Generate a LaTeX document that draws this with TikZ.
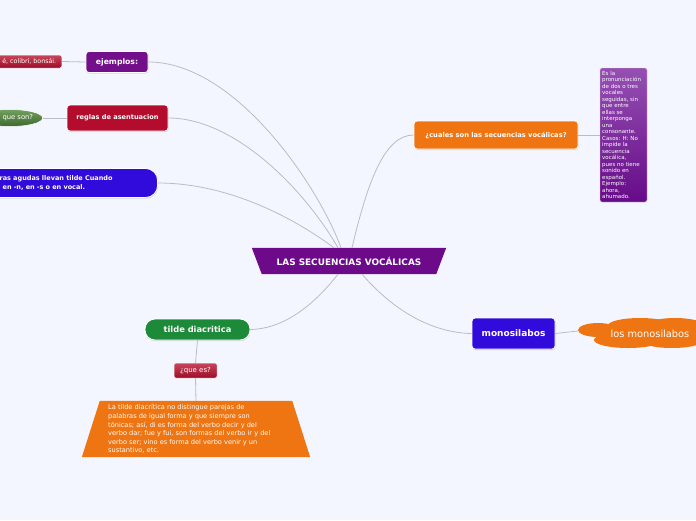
\documentclass[tikz,border=0pt]{standalone}
\usepackage{fontspec}
\setmainfont{DejaVu Sans}
\usetikzlibrary{shapes.geometric,shadows,calc}
\definecolor{bg}{HTML}{F3F6FE}
\definecolor{linegray}{HTML}{B9BCC4}
\definecolor{cpurple}{HTML}{6C0A8A}
\definecolor{epurple}{HTML}{740F8B}
\definecolor{cred}{HTML}{B30C2C}
\definecolor{redtop}{HTML}{C8465A}
\definecolor{redbot}{HTML}{9C0C27}
\definecolor{greentop}{HTML}{72A05E}
\definecolor{greenbot}{HTML}{3E692F}
\definecolor{cblue}{HTML}{310BDC}
\definecolor{corange}{HTML}{EE7512}
\definecolor{cgreen}{HTML}{1D8A39}
\definecolor{ptop}{HTML}{9550B2}
\definecolor{pbot}{HTML}{660B88}
\begin{document}
\begin{tikzpicture}[x=1pt,y=-1pt,
  box/.style={draw=white, line width=0.8pt, text=white, inner sep=0pt, rounded corners=3pt,
    drop shadow={shadow xshift=0.4pt, shadow yshift=-1.2pt, opacity=0.25}},
  smallred/.style={draw=white, line width=0.5pt, text=white, inner sep=0pt, rounded corners=1.5pt,
    top color=redtop, bottom color=redbot},
  conn/.style={draw=linegray, line width=0.8pt},
  fs/.style={font=\fontsize{#1}{#1}\selectfont},
  fb/.style={font=\bfseries\fontsize{#1}{#1}\selectfont}]
\useasboundingbox[fill=bg] (0,0) rectangle (696,520);

% central
\node[minimum width=182pt, minimum height=26pt, inner sep=0pt] (c) at (349,261) {};
\fill[cpurple] ($(c.north west)+(-6,0)$) -- ($(c.north east)+(6,0)$) -- ($(c.south east)+(-4,0)$) -- ($(c.south west)+(4,0)$) -- cycle;
\node[text=white, fb=8.9] (ct) at (349,261.5) {LAS SECUENCIAS VOCÁLICAS};

% left branch
\node[box, fill=epurple, minimum width=62pt, minimum height=21pt, fb=7.7] (ej) at (117,62) {ejemplos:};
\node[smallred, anchor=east, minimum width=65pt, minimum height=13pt, inner xsep=3pt, fs=6.3] (ejl) at (62,61.5) {é, colibrí, bonsái.};

\node[box, fill=cred, minimum width=101pt, minimum height=26pt, fb=6.6] (reg) at (117.5,118) {reglas de asentuacion};
\node[ellipse, draw=white, line width=0.5pt, top color=greentop, bottom color=greenbot, text=white,
  anchor=east, minimum width=60pt, minimum height=17pt, inner sep=0pt, fs=6.8] (qs) at (43,118) {\hspace*{16pt}que son?};

\node[box, fill=cblue, rounded corners=12pt, anchor=east, minimum width=186pt, minimum height=29pt,
  text width=130pt, align=left, fb=6.5] (bl) at (158,183) {ras agudas llevan tilde Cuando\\[2pt]\hspace*{3pt}en -n, en -s o en vocal.};

% right branch
\node[box, fill=corange, minimum width=164pt, minimum height=28pt, fb=6.7] (cu) at (496,135) {¿cuales son las secuencias vocálicas?};
\node[draw=white!70!ptop, line width=0.4pt, rounded corners=2pt, top color=ptop, bottom color=pbot,
  text=white, minimum width=47pt, minimum height=134pt, inner sep=0pt] (pb) at (623.5,135) {};
\node[text=white, anchor=north west, align=left, inner sep=0pt, font=\fontsize{5.5}{6.5}\selectfont] (pbt) at (602,71)
 {Es la\\pronunciación\\de dos o tres\\vocales\\seguidas, sin\\que entre\\ellas se\\interponga\\una\\consonante.\\Casos: H: No\\impide la\\secuencia\\vocálica,\\pues no tiene\\sonido en\\español.\\Ejemplo:\\ahora,\\ahumado.};

\node[box, fill=cblue, minimum width=83pt, minimum height=31pt, fb=9] (mo) at (513.5,333.5) {monosilabos};
% cloud
\begin{scope}[corange]
\fill (598,330) ellipse [x radius=20, y radius=7];
\fill (640,325.5) ellipse [x radius=32, y radius=7.5];
\fill (628,340) ellipse [x radius=34, y radius=8];
\fill (675,326) ellipse [x radius=30, y radius=8];
\fill (672,340) ellipse [x radius=32, y radius=8];
\fill (600,326) rectangle (700,342);
\end{scope}
\coordinate (clw) at (578,331);
\node[text=white, inner sep=0pt, fs=9.8] (cl) at (650,334) {los monosilabos};

% bottom left
\node[box, fill=cgreen, rounded corners=10pt, minimum width=105pt, minimum height=21pt, fb=8.3] (td) at (197.5,329.5) {tilde diacritica};
\node[smallred, minimum width=43pt, minimum height=15pt, fs=7] (qe) at (195.5,370.5) {¿que es?};
\node[minimum width=192pt, minimum height=56pt, inner sep=0pt] (tr) at (196,429) {};
\fill[corange] (tr.north west) -- (tr.north east) -- ($(tr.south east)+(18,0)$) -- ($(tr.south west)+(-18,0)$) -- cycle;
\node[text=white, anchor=north west, align=left, inner sep=0pt, font=\fontsize{6.6}{8.6}\selectfont] (trt) at (108,404.5)
 {La tilde diacrítica no distingue parejas de\\palabras de igual forma y que siempre son\\tónicas; así, di es forma del verbo decir y del\\verbo dar; fue y fui, son formas del verbo ir y del\\verbo ser; vino es forma del verbo venir y un\\sustantivo, etc.};

% connectors
\draw[conn] ($(c.north)+(-8,0)$) .. controls (318,185) and (235,62) .. (ej.east);
\draw[conn] ($(c.north)+(-11,0)$) .. controls (305,190) and (235,118) .. (reg.east);
\draw[conn] ($(c.north)+(-15,0)$) .. controls (290,215) and (225,183) .. (bl.east);
\draw[conn] ($(c.north)+(3,0)$) .. controls (368,180) and (385,135) .. (cu.west);
\draw[conn] ($(c.south)+(-11,0)$) .. controls (310,310) and (280,329) .. (td.east);
\draw[conn] ($(c.south)+(13,0)$) .. controls (400,318) and (440,333) .. (mo.west);
\draw[conn] (ej.west) -- (ejl.east);
\draw[conn] (reg.west) -- (qs.east);
\draw[conn] (cu.east) -- (pb.west);
\draw[conn] (mo.east) -- (clw);
\draw[conn] (td.south) -- (qe.north);
\draw[conn] (qe.south) -- (tr.north);
\end{tikzpicture}
\end{document}
